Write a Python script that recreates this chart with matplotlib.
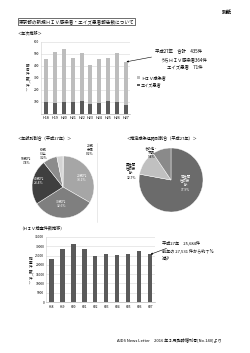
import matplotlib
matplotlib.use("Agg")
import matplotlib.pyplot as plt
import numpy as np
from matplotlib.lines import Line2D

plt.rcParams["font.family"] = ["Noto Sans CJK JP", "DejaVu Sans"]

# --- data -----------------------------------------------------------------
YEARS = ["H18", "H19", "H20", "H21", "H22", "H23", "H24", "H25", "H26", "H27"]
HIV_REPORTS = [356, 425, 444, 367, 398, 327, 366, 356, 412, 364]
AIDS_REPORTS = [100, 92, 97, 103, 108, 83, 94, 111, 97, 71]

AGE_LABELS = ["20歳\n未満", "20歳代", "30歳代", "40歳代", "50歳代", "60歳\n以上"]
AGE_SHARE = [0.2, 33.1, 32.6, 23.4, 7.4, 3.2]

ROUTE_LABELS = ["同性間\n性的接\n触", "異性間\n性的接\n触", "その他・\n不明"]
ROUTE_SHARE = [77.9, 12.7, 9.4]

TEST_COUNTS = [23300, 28700, 31100, 28300, 24900, 25800, 25300, 26100, 27531, 25684]

# --- layout helpers (pixel coords, origin top-left) -----------------------
W, H = 250, 353


def px_box(x0, y0, x1, y1):
    return [x0 / W, 1 - y1 / H, (x1 - x0) / W, (y1 - y0) / H]


def fx(x):
    return x / W


def fy(y):
    return 1 - y / H


def vertical(text):
    return "\n".join(text)


fig = plt.figure(figsize=(2.5, 3.53), dpi=100)
fig.patch.set_facecolor("white")

fig.text(fx(227), fy(12), "別紙", fontsize=3.6, fontweight="bold", ha="center", va="center")
fig.text(fx(19), fy(21.5), "東京都の新規ＨＩＶ感染者・エイズ患者報告数について",
         fontsize=3.3, va="center",
         bbox=dict(boxstyle="square,pad=0.15", fc="white", ec="black", lw=0.4))
fig.text(fx(18), fy(33), "＜年次推移＞", fontsize=3.0, va="center")


def style_bar_axes(ax):
    for side in ("top", "right"):
        ax.spines[side].set_visible(False)
    ax.spines["left"].set_color("#d0d0d0")
    ax.spines["bottom"].set_color("#a0a0a0")
    for sp in ax.spines.values():
        sp.set_linewidth(0.4)
    ax.yaxis.grid(True, color="#d9d9d9", lw=0.4)
    ax.set_axisbelow(True)
    ax.tick_params(length=0, labelsize=2.4, pad=1.2)


# --- chart 1: yearly reports ---------------------------------------------
ax1 = fig.add_axes(px_box(41, 42, 130, 114))
x = np.arange(len(YEARS))
b_aids = ax1.bar(x, AIDS_REPORTS, width=0.45, color="#5a5a5a", label="エイズ患者")
b_hiv = ax1.bar(x, HIV_REPORTS, bottom=AIDS_REPORTS, width=0.45, color="#bdbdbd",
                label="ＨＩＶ感染者")
ax1.set_ylim(0, 600)
ax1.set_xlim(-0.56, 9.45)
ax1.set_yticks(range(100, 700, 100))
ax1.set_xticks(x, YEARS)
style_bar_axes(ax1)
ax1.tick_params(axis="x", labelsize=2.7, pad=1.5)
fig.text(fx(28), fy(78), vertical("報告件数（件）"), fontsize=2.6, ha="center",
         va="center", linespacing=1.0)

ax1.legend(handles=[b_hiv, b_aids], loc="upper left",
           bbox_to_anchor=(fx(135), fy(73)), bbox_transform=fig.transFigure,
           frameon=False, fontsize=3.0, handlelength=0.6, handleheight=0.6,
           handletextpad=0.3, labelspacing=0.7, borderpad=0)

ax1.annotate("平成27年　合計　435件", xy=(9.05, HIV_REPORTS[-1] + AIDS_REPORTS[-1]),
             xytext=(fx(155), fy(52)), textcoords="figure fraction",
             fontsize=3.2, va="center",
             arrowprops=dict(arrowstyle="-|>", color="black", lw=0.4,
                             mutation_scale=2.5, shrinkA=0.5, shrinkB=0))
fig.text(fx(160), fy(60), "うちＨＩＶ感染者364件", fontsize=3.2, va="center")
fig.text(fx(167), fy(67), "エイズ患者　71件", fontsize=3.2, va="center")

# --- chart 2: age pie ------------------------------------------------------
fig.text(fx(18), fy(138), "＜年齢別割合（平成27年）＞", fontsize=3.0, va="center")
ax2 = fig.add_axes(px_box(32, 156, 94, 218))
age_colors = ["#ececec", "#a6a6a6", "#7f7f7f", "#3f3f3f", "#8c8c8c", "#d3d3d3"]
ax2.pie(AGE_SHARE, colors=age_colors, startangle=90, counterclock=False,
        wedgeprops=dict(edgecolor="white", linewidth=0.3))
ax2.set_xlim(-1, 1)
ax2.set_ylim(-1, 1)
age_pos = [(0.87, 1.19), (0.6, 0.3), (-0.05, -0.55), (-0.78, 0.2), (-1.18, 0.84), (-0.63, 1.06)]
age_text_color = ["black", "white", "white", "white", "black", "black"]
for lab, val, pos, col in zip(AGE_LABELS, AGE_SHARE, age_pos, age_text_color):
    ax2.text(pos[0], pos[1], f"{lab}\n{val:.1f}%", fontsize=2.4, ha="center",
             va="center", color=col, linespacing=1.1, clip_on=False)

fig.add_artist(Line2D([fx(97), fx(97)], [fy(143), fy(222)], color="#d9d9d9", lw=0.4))

# --- chart 3: route pie ----------------------------------------------------
fig.text(fx(127), fy(138), "＜推定感染経路別割合（平成27年）＞", fontsize=3.0, va="center")
ax3 = fig.add_axes(px_box(139, 148, 203, 212))
route_colors = ["#6b6b6b", "#c0c0c0", "#8a8a8a"]
ax3.pie(ROUTE_SHARE, colors=route_colors, startangle=90, counterclock=False,
        wedgeprops=dict(edgecolor="white", linewidth=0.3))
ax3.set_xlim(-1, 1)
ax3.set_ylim(-1, 1)
route_pos = [(0.45, -0.1), (-1.25, 0.28), (-0.62, 0.84)]
route_text_color = ["white", "black", "black"]
for lab, val, pos, col in zip(ROUTE_LABELS, ROUTE_SHARE, route_pos, route_text_color):
    ax3.text(pos[0], pos[1], f"{lab}\n{val:.1f}%", fontsize=2.4, ha="center",
             va="center", color=col, linespacing=1.1, clip_on=False)

# --- chart 4: HIV tests ----------------------------------------------------
fig.text(fx(19), fy(228), "（ＨＩＶ検査件数推移）", fontsize=3.0, va="center")
ax4 = fig.add_axes(px_box(46, 237, 155, 302))
ax4.bar(x, TEST_COUNTS, width=0.42, color="#5a5a5a")
ax4.set_ylim(0, 35000)
ax4.set_xlim(-0.48, 9.45)
ax4.set_yticks(range(0, 40000, 5000))
ax4.set_xticks(x, YEARS)
style_bar_axes(ax4)
ax4.tick_params(axis="x", labelsize=2.2, pad=2)
fig.text(fx(31), fy(271), vertical("検査件数（件）"), fontsize=2.6, ha="center",
         va="center", linespacing=1.0)

ax4.annotate("平成27年　25,684件", xy=(9.05, TEST_COUNTS[-1]),
             xytext=(fx(162), fy(243)), textcoords="figure fraction",
             fontsize=3.0, va="center",
             arrowprops=dict(arrowstyle="-|>", color="black", lw=0.4,
                             mutation_scale=2.5, shrinkA=0.5, shrinkB=0))
fig.text(fx(162), fy(251), "前年の 27,531 件から約７％", fontsize=3.0, va="center")
fig.text(fx(162), fy(258), "減少", fontsize=3.0, va="center")

fig.text(fx(117), fy(340), "AIDS News Letter　2016 年３月臨時増刊号[No.140]より",
         fontsize=3.0, va="center")

fig.savefig("out.png", dpi=100)
